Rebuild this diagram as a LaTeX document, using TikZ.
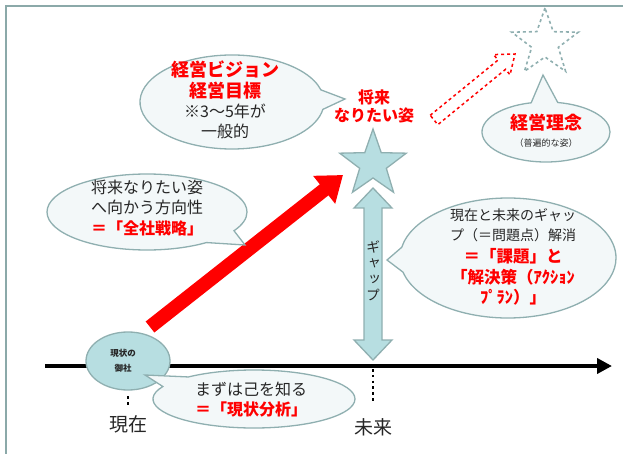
\documentclass[tikz,border=0pt]{standalone}
\usepackage{fontspec}
\setmainfont{Noto Sans CJK JP}
\newfontfamily\jpv{Noto Sans CJK JP}[RawFeature={+vert}]
\usetikzlibrary{shapes.callouts,shapes.geometric,arrows.meta}
\definecolor{bord}{HTML}{8FAFB0}
\definecolor{tealfill}{HTML}{B7DEE1}
\definecolor{bubfill}{HTML}{F3F8F9}
\definecolor{frm}{HTML}{8BA9A9}
\definecolor{txtred}{HTML}{FF0000}
\definecolor{txtblk}{HTML}{262626}
\begin{document}
\begin{tikzpicture}[x=1pt,y=-1pt,
  bub/.style={ellipse callout, draw=bord, fill=bubfill, line width=1.3pt, inner sep=0pt, callout pointer arc=24},
  blk/.style={align=center, inner sep=0pt, text=txtblk, font=\fontsize{#1}{20}\selectfont},
  rdt/.style={align=center, inner sep=0pt, text=txtred, font=\bfseries\fontsize{#1}{20.5}\selectfont},
  starshape/.style={star, star points=5, star point ratio=2.5, minimum size=70pt, inner sep=0pt}
]
\useasboundingbox (0,0) rectangle (623,454);
% frame
\draw[frm, line width=2.5pt] (6,454) -- (6,6) -- (623,6);

% time axis
\coordinate (axL) at (45,366);
\coordinate (axR) at (612,366);
\draw[line width=4pt, -{Triangle[length=15pt,width=15pt]}] (axL) -- (axR);

% dotted markers
\coordinate (d1a) at (128,396);
\coordinate (d1b) at (128,407);
\draw[line width=2.6pt, dash pattern=on 2.6pt off 3.4pt] (d1a) -- (d1b);
\coordinate (d2a) at (373,369);
\coordinate (d2b) at (373,403);
\draw[line width=2.6pt, dash pattern=on 2.6pt off 3.2pt] (d2a) -- (d2b);

% red strategy arrow
\coordinate (rs) at (150,327);
\coordinate (rt) at (343,175);
\draw[red, line width=14pt, -{Triangle[length=24pt,width=34pt]}] (rs) -- (rt);

% current company ellipse
\node[ellipse, draw=bord, fill=tealfill, line width=1.3pt, minimum width=84pt, minimum height=58pt, inner sep=0pt] (now) at (128,361) {};
\node[align=center, inner sep=0pt, font=\bfseries\fontsize{8.5}{14.5}\selectfont, text=txtblk] (nowt) at (123,361) {現状の\\御社};

% bubble: current state analysis
\node[bub, minimum width=202pt, minimum height=58pt, callout absolute pointer={(145,375)}] (b4) at (254,399) {};
\node[blk=16] (b4a) at (251,389) {まずは己を知る};
\node[rdt=16] (b4b) at (251,409) {＝「現状分析」};

% bubble: strategy
\node[bub, minimum width=200pt, minimum height=76pt, callout absolute pointer={(245,245)}] (b2) at (147,212) {};
\node[blk=16] (b2a) at (147,197) {将来なりたい姿\\へ向かう方向性};
\node[rdt=16] (b2b) at (147,228) {＝「全社戦略」};

% bubble: vision
\node[bub, minimum width=184pt, minimum height=94pt, callout absolute pointer={(345,99)}] (b1) at (232,102) {};
\node[rdt=18] (b1a) at (225,80) {経営ビジョン\\経営目標};
\node[blk=16] (b1b) at (225,121) {※3～5年が\\一般的};

% bubble: gap solving
\node[bub, minimum width=216pt, minimum height=120pt, callout absolute pointer={(387,260)}] (b3) at (508,258) {};
\node[blk=14] (b3a) at (513,225) {現在と未来のギャッ\\プ（＝問題点）解消};
\node[rdt=16.5] (b3b) at (513,277) {＝「課題」と\\「解決策（ｱｸｼｮﾝ\\ﾌﾟﾗﾝ）」};

% bubble: philosophy
\node[bub, minimum width=128pt, minimum height=60pt, callout absolute pointer={(543,75)}] (b5) at (546,132) {};
\node[rdt=18] (b5a) at (546,123) {経営理念};
\node[align=center, inner sep=0pt, font=\fontsize{9}{11}\selectfont, text=txtblk] (b5b) at (546,143) {（普遍的な姿）};

% stars
\node[starshape, draw=bord, fill=tealfill, line width=1.3pt] (goal) at (373,164) {};
\node[starshape, draw=bord, dashed, line width=1.6pt] (ideal) at (545,43) {};

% label future goal
\node[rdt=16, font=\bfseries\fontsize{16}{18}\selectfont] (goalt) at (374,106) {将来\\なりたい姿};

% dashed hollow arrow
\draw[red, dashed, line width=1.5pt, fill=white]
  (430.2,115.3) -- (498.0,60.1) -- (493.6,54.6) -- (515,54) -- (510.0,74.8) -- (505.6,69.3) -- (437.8,124.7) -- cycle;

% gap double arrow
\draw[bord, fill=tealfill, line width=1.3pt]
  (373,188) -- (392,208) -- (382,208) -- (382,340) -- (392,340) -- (373,360)
  -- (354,340) -- (364,340) -- (364,208) -- (354,208) -- cycle;
\node[align=center, inner sep=0pt, font=\jpv\fontsize{14}{16}\selectfont, text=txtblk] (gapt) at (373,271) {ギ\\ャ\\ッ\\プ};

% time labels
\node[inner sep=0pt, font=\fontsize{19}{22}\selectfont, text=txtblk] (tnow) at (128,424) {現在};
\node[inner sep=0pt, font=\fontsize{19}{22}\selectfont, text=txtblk] (tfut) at (373,427) {未来};
\end{tikzpicture}
\end{document}
